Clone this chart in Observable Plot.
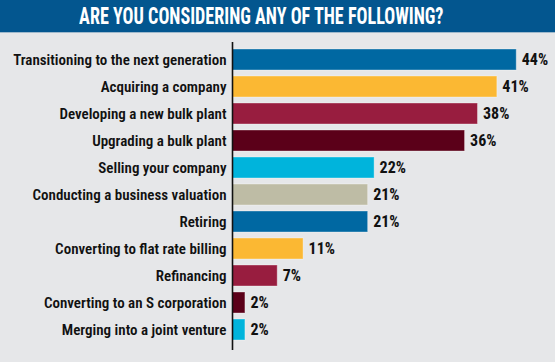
<!DOCTYPE html>
<html>
<head>
<meta charset="utf-8">
<script src="https://cdn.jsdelivr.net/npm/d3@7"></script>
<script src="https://cdn.jsdelivr.net/npm/@observablehq/plot@0.6"></script>
<style>
  html, body { margin: 0; padding: 0; background: #e6e7e9; width: 555px; height: 362px; overflow: hidden; }
  #title {
    height: 32px; background: #03568f; border-bottom: 1px solid #9fb9cc;
    color: #fff; font-family: "Roboto Condensed", "Open Sans", sans-serif;
    font-weight: bold; font-size: 24px; line-height: 33px; text-align: center;
    padding-right: 32px; white-space: nowrap;
  }
  #title span { display: inline-block; transform: scaleX(0.755); transform-origin: center; }
  #chart svg { display: block; }
</style>
</head>
<body>
<div id="title"><span>ARE YOU CONSIDERING ANY OF THE FOLLOWING?</span></div>
<div id="chart"></div>
<script>
const categories = [
  "Transitioning to the next generation",
  "Acquiring a company",
  "Developing a new bulk plant",
  "Upgrading a bulk plant",
  "Selling your company",
  "Conducting a business valuation",
  "Retiring",
  "Converting to flat rate billing",
  "Refinancing",
  "Converting to an S corporation",
  "Merging into a joint venture"
];
const values = [44, 41, 38, 36, 22, 21, 21, 11, 7, 2, 2];
const colors = ["#0068a2", "#fbb833", "#981d3f", "#5b0019", "#00b4dc", "#bebca5", "#0068a2", "#fbb833", "#981d3f", "#5b0019", "#00b4dc"];

const data = categories.map((c, i) => ({category: c, value: values[i], color: colors[i]}));
const font = `"Roboto Condensed", "Open Sans", sans-serif`;

const chart = Plot.plot({
  width: 555,
  height: 329,
  marginLeft: 232,
  marginRight: 0,
  marginTop: 11,
  marginBottom: 18,
  style: {background: "transparent", fontFamily: font},
  x: {domain: [0, 50], axis: null},
  y: {domain: categories, paddingInner: 0.23, paddingOuter: 0.115, axis: null},
  marks: [
    Plot.barX(data, {x: "value", y: "category", fill: d => d.color, stroke: "#ffffff", strokeOpacity: 0.35, strokeWidth: 1}),
    Plot.text(data, {x: 0, y: "category", text: "category", textAnchor: "end", dx: -6,
      fontSize: 15, fontWeight: 600, fill: "#111", fontFamily: font}),
    Plot.text(data, {x: "value", y: "category", text: d => d.value + "%", textAnchor: "start", dx: 5,
      fontSize: 16, fontWeight: "bold", fill: "#111", fontFamily: font}),
    Plot.ruleX([0], {stroke: "#111", strokeWidth: 1.6, insetTop: -2, insetBottom: -6})
  ]
});
document.getElementById("chart").appendChild(chart);
</script>
</body>
</html>
